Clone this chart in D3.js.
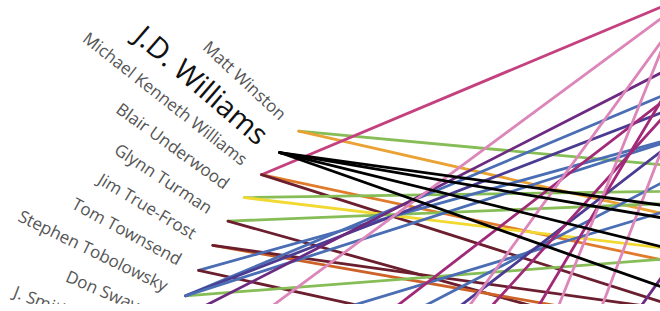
<!DOCTYPE html>
<html>
<head>
<meta charset="utf-8">
<script src="https://cdn.jsdelivr.net/npm/d3@7"></script>
<style>
body { margin: 0; background: #fff; }
svg { display: block; overflow: hidden; }
.label { font-family: "Open Sans", sans-serif; fill: #555; }
.label.focus { fill: #111; }
.link { fill: none; stroke-width: 2.8; stroke-linecap: round; }
</style>
</head>
<body>
<div id="chart"></div>
<script>
// actors in circle order (slot index = position in this list)
var actors = ["Matt Winston", "J.D. Williams", "Michael Kenneth Williams", "Blair Underwood",
  "Glynn Turman", "Jim True-Frost", "Tom Townsend", "Stephen Tobolowsky", "Don Swayze", "J. Smith-Cameron"];
var focus = "J.D. Williams";

// shared-show links: [source slot, target slot, show]
var links = [
  [0, -42.6, "green"], [0, -48.7, "orange"],
  [2, -21.7, "rose"], [2, -50.1, "tangerine"], [2, -54.7, "maroon"],
  [3, -40.6, "green"], [3, -46.9, "yellow"],
  [4, -40.4, "green"], [4, -55.0, "maroon"],
  [5, -51.4, "rust"], [5, -49.8, "maroon"],
  [6, -31.6, "blue"], [6, -54.4, "maroon"],
  [7, -41.7, "green"], [7, -26.7, "blue"], [7, -28.1, "indigo"], [7, -30.8, "blue"],
  [8, -24.2, "purple"],
  [9.6, -34.2, "blue"], [10.9, -19.4, "pink"], [13.0, -28.9, "blue"],
  [15.1, -22.7, "magenta"], [16.9, -24.5, "indigo"], [21.7, -21.0, "magenta"],
  [23.6, -17.8, "pink"], [28.5, -18.5, "magenta"], [29.6, -23.4, "purple"],
  [33.8, -16.5, "pink"], [35.9, -17.8, "pink"],
  [1, -45.7, "focus"], [1, -47.2, "focus"], [1, -50.6, "focus"], [1, -55.1, "focus"]
];

var palette = {
  rose: "#c4407f", pink: "#dc86b9", magenta: "#a12a78", purple: "#6c2a80",
  indigo: "#4b3b93", blue: "#4a6db4", green: "#87bd56", orange: "#e9a233",
  tangerine: "#e07b2b", rust: "#cd6229", maroon: "#6b1f2e", yellow: "#f1d932",
  focus: "#000"
};

var width = 660, height = 304,
    cx = 788, cy = 589, radius = 670;

var angle = d3.scaleLinear().domain([0, 7]).range([-136.9, -154.05]);

function point(k) {
  var a = angle(k) * Math.PI / 180;
  return [cx + radius * Math.cos(a), cy + radius * Math.sin(a)];
}

var svg = d3.select("#chart").append("svg")
  .attr("width", width)
  .attr("height", height);

var line = d3.line();

svg.selectAll(".link")
  .data(links)
  .enter().append("path")
  .attr("class", "link")
  .attr("d", function(d) { return line([point(d[0]), point(d[1])]); })
  .style("stroke", function(d) { return palette[d[2]]; });

svg.selectAll(".label")
  .data(actors)
  .enter().append("text")
  .attr("class", function(d) { return d == focus ? "label focus" : "label"; })
  .attr("transform", function(d, i) {
    return "translate(" + cx + "," + cy + ")rotate(" + angle(i) + ")translate(" + (radius + 21) + ",0)rotate(180)";
  })
  .attr("dy", ".35em")
  .attr("text-anchor", "end")
  .style("font-size", function(d) { return d == focus ? "29px" : "17px"; })
  .text(function(d) { return d; });
</script>
</body>
</html>
